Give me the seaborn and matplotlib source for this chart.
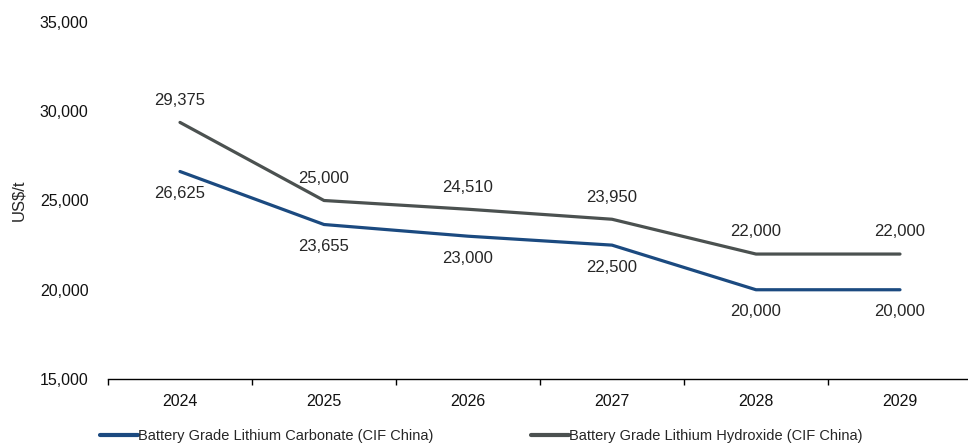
import pandas as pd
import matplotlib.pyplot as plt
import seaborn as sns
from matplotlib.ticker import FuncFormatter, FixedLocator

years = ["2024", "2025", "2026", "2027", "2028", "2029"]
carbonate = [26625, 23655, 23000, 22500, 20000, 20000]
hydroxide = [29375, 25000, 24510, 23950, 22000, 22000]
series_names = ["Battery Grade Lithium Carbonate (CIF China)",
                "Battery Grade Lithium Hydroxide (CIF China)"]
colors = ["#1B4A80", "#4B5150"]


def main():
    sns.set_style("white")
    plt.rcParams['font.family'] = ['Liberation Sans', 'DejaVu Sans']

    df = pd.DataFrame({
        "year": years * 2,
        "pos": list(range(len(years))) * 2,
        "value": carbonate + hydroxide,
        "series": [series_names[0]] * len(years) + [series_names[1]] * len(years),
    })

    fig = plt.figure(figsize=(9.68, 4.43), dpi=100)
    ax = fig.add_axes([108 / 968, 64 / 443, 864 / 968, 357 / 443])

    sns.lineplot(data=df, x="pos", y="value", hue="series", palette=colors,
                 linewidth=2.3, ax=ax, legend=True)

    ax.set_xlim(-0.5, len(years) - 0.5)
    ax.set_ylim(15000, 35000)
    ax.set_yticks([15000, 20000, 25000, 30000, 35000])
    ax.yaxis.set_major_formatter(FuncFormatter(lambda v, p: f"{int(v):,}"))
    ax.tick_params(axis="y", length=0, pad=14, labelsize=11.5, labelcolor="#111111")

    ax.set_xticks(range(len(years)))
    ax.set_xticklabels(years)
    ax.xaxis.set_minor_locator(FixedLocator([i - 0.5 for i in range(len(years) + 1)]))
    ax.tick_params(axis="x", which="major", length=0, pad=11, labelsize=11.5,
                   labelcolor="#111111")
    ax.tick_params(axis="x", which="minor", length=4, width=1, color="black",
                   direction="out", bottom=True)

    ax.set_xlabel("")
    ax.set_ylabel("US$/t", fontsize=12, labelpad=10)

    for side in ["top", "right", "left"]:
        ax.spines[side].set_visible(False)
    ax.spines["bottom"].set_color("black")
    ax.spines["bottom"].set_linewidth(1)

    # data labels: hydroxide above, carbonate below
    for i in range(len(years)):
        ax.annotate(f"{hydroxide[i]:,}", (i, hydroxide[i]), xytext=(0, 16),
                    textcoords="offset points", ha="center", va="center", fontsize=12)
        ax.annotate(f"{carbonate[i]:,}", (i, carbonate[i]), xytext=(0, -16),
                    textcoords="offset points", ha="center", va="center", fontsize=12)

    leg = ax.legend(loc="upper left", bbox_to_anchor=(-0.016, -0.124), ncol=2,
                    frameon=False, fontsize=10.5, handlelength=2.6, handletextpad=0.0,
                    columnspacing=6.7, borderaxespad=0)
    for line in leg.get_lines():
        line.set_linewidth(3)

    fig.savefig("out.png", dpi=100)


if __name__ == "__main__":
    main()
